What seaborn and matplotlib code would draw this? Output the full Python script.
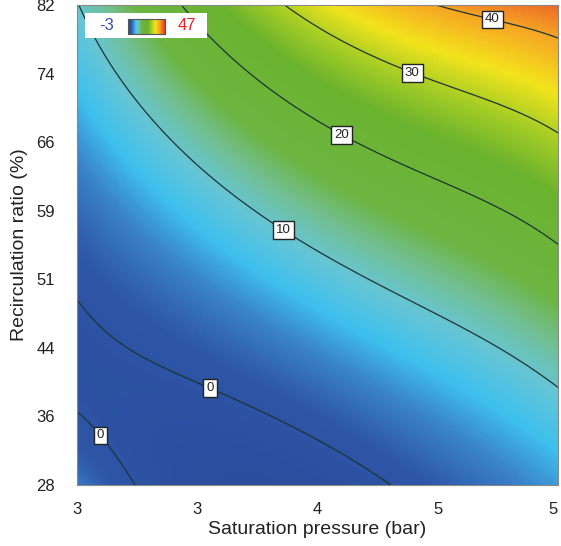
import numpy as np
import matplotlib
matplotlib.use("Agg")
import matplotlib.pyplot as plt
from matplotlib.colors import LinearSegmentedColormap
from matplotlib.patches import Rectangle
import seaborn as sns

# grid (columns = pressure, rows = recirculation)
pressure = [2.7, 3.025, 3.35, 3.675, 4.0, 4.325, 4.65, 4.975, 5.3]
recirculation = [28.4, 36.0, 43.6, 51.2, 58.8, 66.4, 74.0, 81.6]
response = [
    [2.8, 1.0, -2.6, -2.9, -1.8, 0.3, 1.5, 3.1, 5.0],
    [1.4, -1.5, -1.4, -0.2, 1.1, 3.1, 4.1, 5.5, 8.7],
    [-1.55, 0.1, 1.5, 3.0, 4.6, 6.4, 7.8, 9.5, 13.0],
    [-0.3, 3.0, 4.3, 6.2, 8.0, 9.8, 12.2, 14.7, 17.3],
    [2.5, 5.5, 7.3, 9.5, 12.5, 15.2, 17.7, 20.0, 22.4],
    [4.8, 8.0, 11.1, 14.3, 18.2, 21.0, 24.0, 26.4, 28.6],
    [7.5, 10.8, 16.0, 20.9, 24.9, 28.0, 31.0, 33.7, 36.0],
    [10.2, 14.1, 22.7, 28.5, 32.2, 36.5, 40.0, 42.0, 44.0],
]
contour_levels = [0, 10, 20, 30, 40]
z_min, z_max = -3, 47

x_ticklabels = ["3", "3", "4", "5", "5"]
y_ticklabels = ["28", "36", "44", "51", "59", "66", "74", "82"]

sns.set_theme(style="white")
plt.rcParams["font.family"] = ["Liberation Sans", "DejaVu Sans"]

cmap = LinearSegmentedColormap.from_list("design", [
    (0.00, "#2A4C9C"), (0.08, "#2E56A7"), (0.14, "#3A84CC"),
    (0.19, "#3EC0EE"), (0.25, "#66C5D6"), (0.31, "#72BF92"),
    (0.37, "#6CB541"), (0.54, "#6AB32E"), (0.64, "#A6CD25"),
    (0.74, "#F3E41C"), (0.86, "#F6A524"), (1.00, "#E63A28")])

# response-surface style model: least-squares polynomial through the read values
xs = np.array(pressure)
ys = np.array(recirculation)
Z = np.array(response)
X, Y = np.meshgrid(xs, ys)
U = (X - xs.min()) / (xs.max() - xs.min())
V = (Y - ys.min()) / (ys.max() - ys.min())
degree = 5
powers = [(i, j) for i in range(degree + 1) for j in range(degree + 1 - i)]


def design(u, v):
    return np.column_stack([u.ravel() ** i * v.ravel() ** j for i, j in powers])


coef, *_ = np.linalg.lstsq(design(U, V), Z.ravel(), rcond=None)
uf, vf = np.meshgrid(np.linspace(0, 1, 300), np.linspace(0, 1, 300))
zf = (design(uf, vf) @ coef).reshape(uf.shape)
xf = xs.min() + uf * (xs.max() - xs.min())
yf = ys.min() + vf * (ys.max() - ys.min())

fig = plt.figure(figsize=(5.61, 5.46), dpi=100)
ax = fig.add_axes([77 / 561, 61 / 546, 481 / 561, 480 / 546])

ax.pcolormesh(xf, yf, zf, shading="gouraud", cmap=cmap, vmin=z_min, vmax=z_max)
cs = ax.contour(xf, yf, zf, levels=contour_levels, colors="#1E3434", linewidths=0.9)

label_spots = [(4.95, 80.4), (4.52, 74.5), (4.14, 67.6), (3.85, 57.8), (3.42, 39.2), (2.91, 35.3)]
texts = ax.clabel(cs, fmt="%d", fontsize=9.5, inline=False, manual=label_spots)
for t in texts:
    t.set_rotation(0)
    t.set_color("#222222")
    t.set_bbox(dict(boxstyle="square,pad=0.22", fc="white", ec="#222222", lw=1.0))

ax.set_xlim(xs.min(), xs.max())
ax.set_ylim(ys.min(), ys.max())
ax.set_xticks(np.linspace(xs.min(), xs.max(), len(x_ticklabels)))
ax.set_xticklabels(x_ticklabels)
ax.set_yticks(np.linspace(ys.min(), ys.max(), len(y_ticklabels)))
ax.set_yticklabels(y_ticklabels)
ax.tick_params(axis="both", direction="out", length=7, width=0.8, color="#777777",
               labelsize=12, labelcolor="#222222")
ax.tick_params(axis="x", pad=5)
ax.tick_params(axis="y", pad=9)
ax.get_xticklabels()[-1].set_ha("right")
ax.set_xlabel("Saturation pressure (bar)", fontsize=14, color="#222222", labelpad=3)
ax.set_ylabel("Recirculation ratio (%)", fontsize=14, color="#222222", labelpad=6)
for sp in ax.spines.values():
    sp.set_color("#888888")
    sp.set_linewidth(0.8)

# little colour key in the corner
ax.add_patch(Rectangle((0.0166, 0.931), 0.254, 0.052, transform=ax.transAxes,
                       fc="white", ec="none", zorder=5))
ax.text(0.062, 0.957, "-3", transform=ax.transAxes, ha="center", va="center",
        fontsize=12, color="#3451A3", zorder=6)
ax.text(0.228, 0.957, "47", transform=ax.transAxes, ha="center", va="center",
        fontsize=12, color="#E3262B", zorder=6)
cax = fig.add_axes([128 / 561, (546 - 34) / 546, 37 / 561, 15 / 546])
cax.imshow(np.linspace(0, 1, 100)[None, :], aspect="auto", cmap=cmap)
cax.set_xticks([])
cax.set_yticks([])
for sp in cax.spines.values():
    sp.set_color("#555555")
    sp.set_linewidth(0.8)

fig.savefig("out.png", dpi=100)
